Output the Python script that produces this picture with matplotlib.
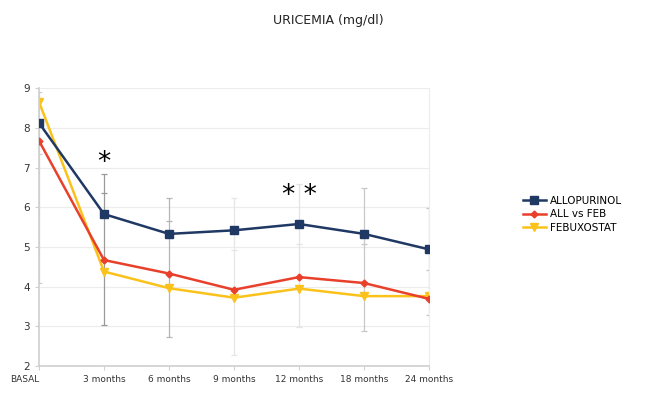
import numpy as np
import matplotlib.pyplot as plt

times = ['BASAL', '3 months', '6 months', '9 months', '12 months', '18 months', '24 months']

allopurinol = [8.13, 5.83, 5.33, 5.42, 5.58, 5.33, 4.94]
all_vs_feb = [7.68, 4.67, 4.33, 3.92, 4.24, 4.09, 3.69]
febuxostat = [8.66, 4.38, 3.96, 3.72, 3.95, 3.76, 3.76]

# error bar extents (absolute values)
err_low = [4.10, 3.02, 2.72, 2.28, 2.98, 2.88, 3.28]
err_mid = [7.35, 6.35, 5.66, 4.92, 5.07, 5.07, 4.42]
err_high = [8.91, 6.84, 6.24, 6.24, 6.60, 6.50, 5.99]

# significance marks
sig_pos = [1, 4]
sig_text = ['*', '* *']
sig_y = [7.12, 6.28]

fig = plt.figure(figsize=(6.5, 3.93), dpi=100)
ax = fig.add_axes([0.06, 0.069, 0.60, 0.706])

x = np.arange(len(times))
err_colors = ['#cfcfcf', '#9a9a9a', '#b5b5b5', '#e6e6e6', '#e3e3e3', '#c8c8c8', '#c4c4c4']

ax.vlines(x, err_low, err_high, colors=err_colors, linewidth=0.9, zorder=1)
for xs, ys in ((x, err_low), (x, err_mid), (x, err_high)):
    ax.scatter(xs, ys, marker='_', s=18, c=err_colors, linewidths=0.9, zorder=1)

ax.plot(x, allopurinol, color='#1f3864', marker='s', markersize=6, linewidth=1.8,
        label='ALLOPURINOL', zorder=4)
ax.plot(x, all_vs_feb, color='#e8402b', marker='D', markersize=3.5, linewidth=1.8,
        label='ALL vs FEB', zorder=3)
ax.plot(x, febuxostat, color='#fbc21b', marker='v', markersize=6, linewidth=1.8,
        label='FEBUXOSTAT', zorder=2)

for xp, t, yp in zip(sig_pos, sig_text, sig_y):
    ax.text(xp, yp, t, ha='center', va='center', fontsize=19, color='black')

ax.set_xlim(0, 6)
ax.set_ylim(2, 9)
ax.set_yticks(range(2, 10))
ax.set_xticks(x)
ax.set_xticklabels(times)
ax.tick_params(axis='both', labelsize=6.5, colors='#d0d0d0', labelcolor='#333333',
               length=3, width=0.8)
ax.tick_params(axis='y', labelsize=7.5)
ax.get_xticklabels()[0].set_horizontalalignment('right')
ax.get_xticklabels()[0].set_x(0.02)

ax.grid(axis='y', color='#ececec', linewidth=0.8)
ax.set_axisbelow(True)
for side in ('left', 'bottom'):
    ax.spines[side].set_color('#cfcfcf')
    ax.spines[side].set_linewidth(1.2)
ax.spines['top'].set_visible(False)
ax.spines['right'].set_color('#ececec')
ax.spines['right'].set_linewidth(0.8)

fig.text(0.505, 0.948, 'URICEMIA (mg/dl)', ha='center', va='center', fontsize=9, color='#222222')

fig.legend(loc='center left', bbox_to_anchor=(0.79, 0.455), frameon=False, fontsize=7.5,
           handlelength=2.2, handletextpad=0.4, labelspacing=0.35)

fig.savefig('out.png', dpi=100, facecolor='white')
